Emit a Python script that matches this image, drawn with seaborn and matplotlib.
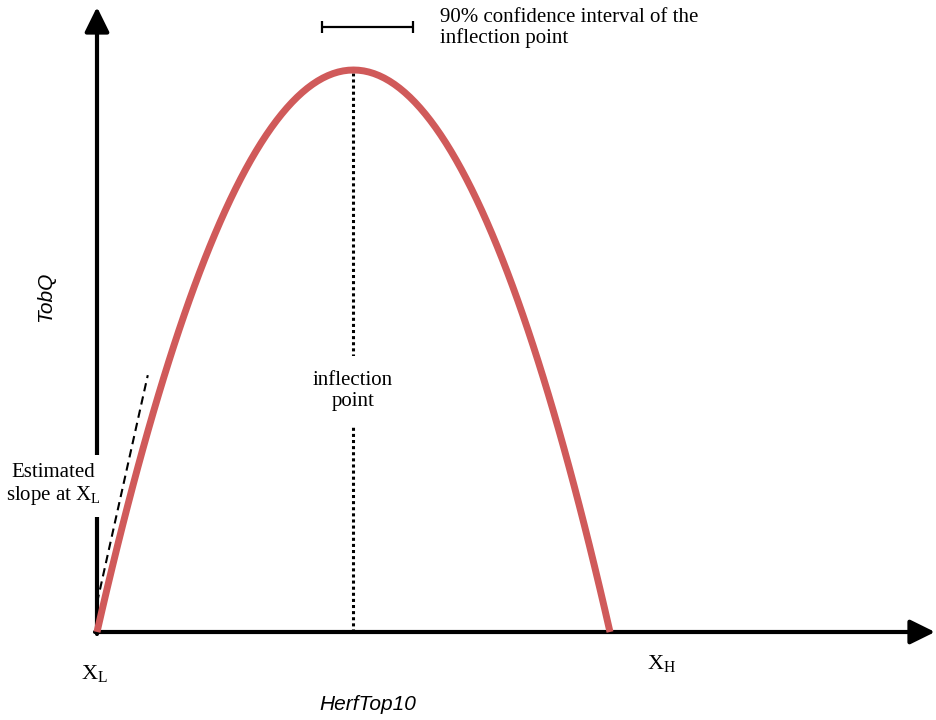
import matplotlib
matplotlib.use("Agg")
import matplotlib.pyplot as plt
import seaborn as sns
import pandas as pd

# ---- data (conceptual units: X_L = 0, right root = 1, peak = 1) ----
herf = [0.00, 0.01, 0.02, 0.03, 0.04, 0.05, 0.06, 0.07, 0.08, 0.09,
        0.10, 0.11, 0.12, 0.13, 0.14, 0.15, 0.16, 0.17, 0.18, 0.19,
        0.20, 0.21, 0.22, 0.23, 0.24, 0.25, 0.26, 0.27, 0.28, 0.29,
        0.30, 0.31, 0.32, 0.33, 0.34, 0.35, 0.36, 0.37, 0.38, 0.39,
        0.40, 0.41, 0.42, 0.43, 0.44, 0.45, 0.46, 0.47, 0.48, 0.49,
        0.50, 0.51, 0.52, 0.53, 0.54, 0.55, 0.56, 0.57, 0.58, 0.59,
        0.60, 0.61, 0.62, 0.63, 0.64, 0.65, 0.66, 0.67, 0.68, 0.69,
        0.70, 0.71, 0.72, 0.73, 0.74, 0.75, 0.76, 0.77, 0.78, 0.79,
        0.80, 0.81, 0.82, 0.83, 0.84, 0.85, 0.86, 0.87, 0.88, 0.89,
        0.90, 0.91, 0.92, 0.93, 0.94, 0.95, 0.96, 0.97, 0.98, 0.99,
        1.00]
tobq = [0.0000, 0.0396, 0.0784, 0.1164, 0.1536, 0.1900, 0.2256, 0.2604, 0.2944, 0.3276,
        0.3600, 0.3916, 0.4224, 0.4524, 0.4816, 0.5100, 0.5376, 0.5644, 0.5904, 0.6156,
        0.6400, 0.6636, 0.6864, 0.7084, 0.7296, 0.7500, 0.7696, 0.7884, 0.8064, 0.8236,
        0.8400, 0.8556, 0.8704, 0.8844, 0.8976, 0.9100, 0.9216, 0.9324, 0.9424, 0.9516,
        0.9600, 0.9676, 0.9744, 0.9804, 0.9856, 0.9900, 0.9936, 0.9964, 0.9984, 0.9996,
        1.0000, 0.9996, 0.9984, 0.9964, 0.9936, 0.9900, 0.9856, 0.9804, 0.9744, 0.9676,
        0.9600, 0.9516, 0.9424, 0.9324, 0.9216, 0.9100, 0.8976, 0.8844, 0.8704, 0.8556,
        0.8400, 0.8236, 0.8064, 0.7884, 0.7696, 0.7500, 0.7296, 0.7084, 0.6864, 0.6636,
        0.6400, 0.6156, 0.5904, 0.5644, 0.5376, 0.5100, 0.4816, 0.4524, 0.4224, 0.3916,
        0.3600, 0.3276, 0.2944, 0.2604, 0.2256, 0.1900, 0.1536, 0.1164, 0.0784, 0.0396,
        0.0000]
inflection_x = [0.499, 0.499]
inflection_y = [0.000, 0.995]
slope_x = [0.000, 0.099]
slope_y = [0.052, 0.457]
ci_low, ci_high = 0.4386, 0.616
ci_level = 1.0765

# ---- figure / layout (pixel anchors of the reference) ----
W, H = 936, 720
PX0, PY0, SX, SY = 97, 632, 513, 562   # origin px and px per unit


def dx(px):
    return (px - PX0) / SX


def dy(py):
    return (PY0 - py) / SY


sns.set_theme(style="white")
plt.rcParams["font.family"] = ["Liberation Serif", "DejaVu Serif"]
plt.rcParams["text.color"] = "black"

fig = plt.figure(figsize=(W / 100, H / 100), dpi=100)
ax = fig.add_axes([0, 0, 1, 1])
ax.set_xlim(dx(0), dx(W))
ax.set_ylim(dy(H), dy(0))
ax.axis("off")

# axes arrows
arrow_kw = dict(arrowstyle="-|>,head_length=0.75,head_width=0.37",
                color="black", lw=3.0, mutation_scale=20,
                shrinkA=0, shrinkB=0)
ax.annotate("", xy=(dx(935), 0), xytext=(dx(95), 0),
            arrowprops=arrow_kw, zorder=2)
ax.annotate("", xy=(0, dy(7)), xytext=(0, dy(634)),
            arrowprops=arrow_kw, zorder=2)

# curve
df = pd.DataFrame({"HerfTop10": herf, "TobQ": tobq})
sns.lineplot(data=df, x="HerfTop10", y="TobQ", ax=ax, color="#D05A5A",
             lw=5.0, sort=False, estimator=None, zorder=3,
             solid_capstyle="butt", solid_joinstyle="round")

# inflection dotted line
sns.lineplot(x=inflection_x, y=inflection_y, ax=ax, color="black", lw=2.2,
             linestyle=(0, (1, 1)), estimator=None, sort=False, zorder=2)

# estimated slope dashed line
sns.lineplot(x=slope_x, y=slope_y, ax=ax, color="black", lw=1.5,
             linestyle=(0, (4, 2.5)), estimator=None, sort=False, zorder=2)

# confidence interval
ci_mid = (ci_low + ci_high) / 2
ax.errorbar([ci_mid], [ci_level], xerr=[[ci_mid - ci_low], [ci_high - ci_mid]],
            fmt="none", ecolor="black", elinewidth=1.6, capsize=4,
            capthick=1.6, zorder=3)

fs = 15
ax.text(dx(440), dy(28), "90% confidence interval of the\ninflection point",
        ha="left", va="center", fontsize=fs, linespacing=1.1, color="black")
ax.text(inflection_x[0], dy(391), "inflection\npoint", ha="center",
        va="center", fontsize=fs, linespacing=1.1, color="black", zorder=5,
        bbox=dict(boxstyle="square,pad=0.75", fc="white", ec="none"))
ax.text(dx(53), dy(485), "Estimated\nslope at $\\mathregular{X_L}$",
        ha="center", va="center", fontsize=fs, linespacing=1.1,
        color="black", zorder=5,
        bbox=dict(boxstyle="square,pad=0.5", fc="white", ec="none"))
ax.text(dx(94), dy(674), "$\\mathregular{X_L}$", ha="center", va="center",
        fontsize=fs + 1, color="black")
ax.text(dx(662), dy(664), "$\\mathregular{X_H}$", ha="center", va="center",
        fontsize=fs + 1, color="black")

ax.text(dx(368), dy(704), "HerfTop10", ha="center", va="center",
        fontsize=15, style="italic", color="black",
        family=["Liberation Sans", "DejaVu Sans"])
ax.text(dx(46), dy(297), "TobQ", ha="center", va="center", rotation=90,
        fontsize=15, style="italic", color="black",
        family=["Liberation Sans", "DejaVu Sans"])

fig.savefig("out.png", dpi=100)
